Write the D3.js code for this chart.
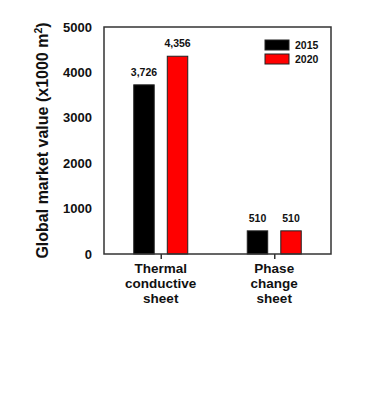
<!DOCTYPE html>
<html>
<head>
<meta charset="utf-8">
<script src="https://cdn.jsdelivr.net/npm/d3@7"></script>
<style>
  body { margin: 0; background: #fff; }
  text { font-family: "Liberation Sans", Arial, sans-serif; font-weight: bold; fill: #111; }
</style>
</head>
<body>
<div id="chart"></div>
<script>
// Data
const categories = ["Thermal conductive sheet", "Phase change sheet"];
const categoryLines = [["Thermal", "conductive", "sheet"], ["Phase", "change", "sheet"]];
const years = ["2015", "2020"];
const values2015 = [3726, 510];
const values2020 = [4356, 510];
const yTicks = [0, 1000, 2000, 3000, 4000, 5000];
const yearColors = ["#000000", "#ff0000"];

const width = 373, height = 400;
const plot = { left: 104, right: 331, top: 27, bottom: 254 };

const svg = d3.select("#chart")
  .append("svg")
  .attr("width", width)
  .attr("height", height);

const x = d3.scalePoint()
  .domain(categories)
  .range([plot.left, plot.right])
  .padding(0.5);

const x1 = d3.scaleBand()
  .domain(years)
  .range([-27, 27])
  .paddingInner(0.39);

const y = d3.scaleLinear()
  .domain([0, 5000])
  .range([plot.bottom, plot.top]);

const colors = d3.scaleOrdinal().domain(years).range(yearColors);

const rows = categories.map((c, i) => ({
  category: c,
  values: [
    { year: "2015", value: values2015[i] },
    { year: "2020", value: values2020[i] }
  ]
}));

// Bars
const groups = svg.selectAll("g.group")
  .data(rows)
  .join("g")
  .attr("class", "group")
  .attr("transform", d => `translate(${x(d.category)},0)`);

groups.selectAll("rect")
  .data(d => d.values)
  .join("rect")
  .attr("x", d => x1(d.year))
  .attr("y", d => y(d.value))
  .attr("width", x1.bandwidth())
  .attr("height", d => y(0) - y(d.value))
  .attr("fill", d => colors(d.year))
  .attr("stroke", "#222")
  .attr("stroke-width", 1);

groups.selectAll("text.val")
  .data(d => d.values)
  .join("text")
  .attr("class", "val")
  .attr("x", d => x1(d.year) + x1.bandwidth() / 2)
  .attr("y", d => y(d.value) - 9)
  .attr("text-anchor", "middle")
  .style("font-size", "10.5px")
  .text(d => d3.format(",")(d.value));

// Frame
svg.append("rect")
  .attr("x", plot.left)
  .attr("y", plot.top)
  .attr("width", plot.right - plot.left)
  .attr("height", plot.bottom - plot.top)
  .attr("fill", "none")
  .attr("stroke", "#333")
  .attr("stroke-width", 1.5);

// Y axis (labels only)
const yAxis = svg.append("g")
  .attr("transform", `translate(${plot.left},0)`)
  .call(d3.axisLeft(y).tickValues(yTicks).tickSize(0).tickPadding(12).tickFormat(d3.format("d")));
yAxis.select(".domain").remove();
yAxis.selectAll("text")
  .style("font-size", "13px")
  .style("font-family", "Liberation Sans, Arial, sans-serif")
  .attr("fill", "#111");

// X axis
const xAxis = svg.append("g")
  .attr("transform", `translate(0,${plot.bottom})`)
  .call(d3.axisBottom(x).tickSize(5).tickFormat(""));
xAxis.select(".domain").remove();
xAxis.selectAll("line").attr("stroke", "#333").attr("stroke-width", 1.5);

const xl = svg.selectAll("text.xlab")
  .data(categories)
  .join("text")
  .attr("class", "xlab")
  .attr("text-anchor", "middle")
  .style("font-size", "13.5px");
xl.selectAll("tspan")
  .data((d, i) => categoryLines[i].map(t => ({ t, c: d })))
  .join("tspan")
  .attr("x", d => x(d.c))
  .attr("y", (d, j) => 272.5 + j * 15)
  .text(d => d.t);

// Y title
const yt = svg.append("text")
  .attr("transform", `translate(47.5,${(plot.top + plot.bottom) / 2}) rotate(-90)`)
  .attr("text-anchor", "middle")
  .style("font-size", "16px");
yt.append("tspan").text("Global market value (x1000 m");
yt.append("tspan").attr("dy", -6).style("font-size", "10.5px").text("2");
yt.append("tspan").attr("dy", 6).text(")");

// Legend
const legend = svg.append("g").attr("transform", "translate(265,40)");
const li = legend.selectAll("g")
  .data(years)
  .join("g")
  .attr("transform", (d, i) => `translate(0,${i * 14})`);
li.append("rect")
  .attr("width", 24)
  .attr("height", 10)
  .attr("fill", d => colors(d))
  .attr("stroke", "#222")
  .attr("stroke-width", 1);
li.append("text")
  .attr("x", 30)
  .attr("y", 9)
  .style("font-size", "10.5px")
  .text(d => d);
</script>
</body>
</html>
